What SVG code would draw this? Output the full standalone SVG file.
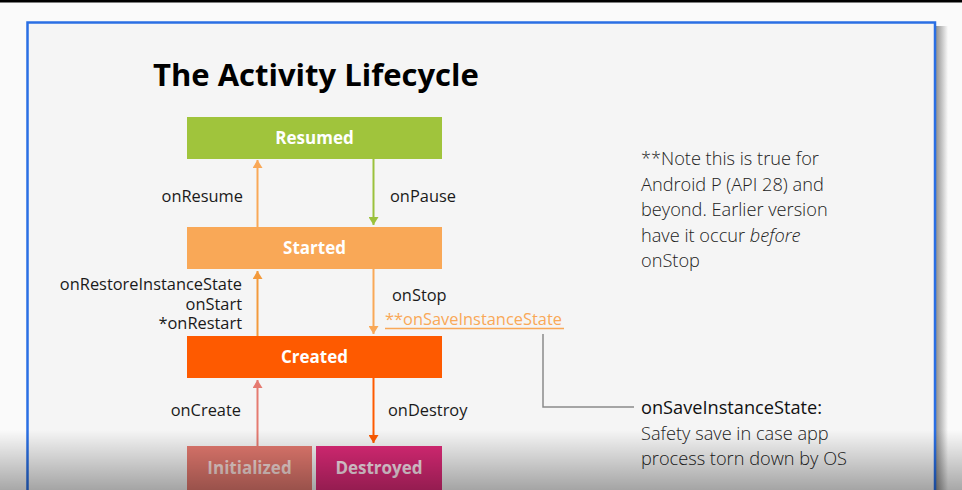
<svg xmlns="http://www.w3.org/2000/svg" width="962" height="490" viewBox="0 0 962 490">
<defs>
<style>
.lbl{font-family:"Open Sans","Noto Sans","Liberation Sans",sans-serif;font-size:16.4px;fill:#1a1a1a}
.box{font-family:"Open Sans","Noto Sans","Liberation Sans",sans-serif;font-size:17px;font-weight:700;fill:#ffffff;text-anchor:middle}
.note{font-family:"Open Sans","Noto Sans","Liberation Sans",sans-serif;font-size:18.2px;font-weight:300;fill:#222}
</style>
<linearGradient id="shade" x1="0" y1="0" x2="0" y2="1">
<stop offset="0" stop-color="#000" stop-opacity="0"/>
<stop offset="1" stop-color="#000" stop-opacity="0.33"/>
</linearGradient>
<linearGradient id="rshadow" x1="0" y1="0" x2="1" y2="0">
<stop offset="0" stop-color="#777" stop-opacity="0.8"/>
<stop offset="1" stop-color="#777" stop-opacity="0"/>
</linearGradient>
<marker id="aLO" markerWidth="8" markerHeight="10" refX="8" refY="5" orient="auto" markerUnits="userSpaceOnUse" viewBox="0 0 8 10"><path d="M0,0 L8,5 L0,10 Z" fill="#f9a857"/></marker>
<marker id="aG" markerWidth="8" markerHeight="10" refX="8" refY="5" orient="auto" markerUnits="userSpaceOnUse" viewBox="0 0 8 10"><path d="M0,0 L8,5 L0,10 Z" fill="#9bc13c"/></marker>
<marker id="aO" markerWidth="8" markerHeight="10" refX="8" refY="5" orient="auto" markerUnits="userSpaceOnUse" viewBox="0 0 8 10"><path d="M0,0 L8,5 L0,10 Z" fill="#f39a3c"/></marker>
<marker id="aS" markerWidth="8" markerHeight="10" refX="8" refY="5" orient="auto" markerUnits="userSpaceOnUse" viewBox="0 0 8 10"><path d="M0,0 L8,5 L0,10 Z" fill="#e57a70"/></marker>
<marker id="aR" markerWidth="8" markerHeight="10" refX="8" refY="5" orient="auto" markerUnits="userSpaceOnUse" viewBox="0 0 8 10"><path d="M0,0 L8,5 L0,10 Z" fill="#fe5a00"/></marker>
</defs>
<rect x="0" y="0" width="962" height="490" fill="#fafafa"/>
<rect x="0" y="0" width="962" height="2.5" fill="#000"/>
<rect x="936" y="26" width="12" height="470" fill="url(#rshadow)"/>
<rect x="27.5" y="22.5" width="907.5" height="480" fill="#f5f5f5" stroke="#2a6fe4" stroke-width="2.5"/>

<text x="153" y="86" font-family="'Open Sans','Noto Sans','Liberation Sans',sans-serif" font-size="31" font-weight="700" fill="#000">The Activity Lifecycle</text>

<g id="resumed"><rect x="187" y="117" width="255" height="42" fill="#a0c43c"/><text class="box" x="314.5" y="144">Resumed</text></g>
<g id="started"><rect x="187" y="227" width="255" height="42" fill="#f9a857"/><text class="box" x="314.5" y="254">Started</text></g>
<g id="created"><rect x="187" y="336" width="255" height="42" fill="#fe5a00"/><text class="box" x="314.5" y="363">Created</text></g>
<g id="initialized"><rect x="187" y="446" width="125" height="50" fill="#e57a70"/><text class="box" x="249.5" y="474" style="fill:#f6dcd8">Initialized</text></g>
<g id="destroyed"><rect x="316" y="446" width="126" height="50" fill="#de2a78"/><text class="box" x="379" y="474" style="fill:#fbe4ee">Destroyed</text></g>

<g id="connectors" stroke-width="2" fill="none">
<line x1="257.5" y1="227" x2="257.5" y2="160" stroke="#f9a857" marker-end="url(#aLO)"/>
<line x1="373.5" y1="159" x2="373.5" y2="225" stroke="#9bc13c" marker-end="url(#aG)"/>
<line x1="257.5" y1="336" x2="257.5" y2="271" stroke="#f39a3c" marker-end="url(#aO)"/>
<line x1="373.5" y1="269" x2="373.5" y2="334" stroke="#f9a857" marker-end="url(#aLO)"/>
<line x1="257.5" y1="446" x2="257.5" y2="380" stroke="#e57a70" marker-end="url(#aS)"/>
<line x1="373.5" y1="378" x2="373.5" y2="443" stroke="#fe5a00" marker-end="url(#aR)"/>
<polyline points="543,334 543,407 634,407" stroke="#8a8a8a" stroke-width="1.5"/>
<line x1="385" y1="328.5" x2="564" y2="328.5" stroke="#f9a857" stroke-width="1.5"/>
</g>

<text class="lbl" x="243" y="202" text-anchor="end">onResume</text>
<text class="lbl" x="390" y="202">onPause</text>
<text class="lbl" x="242" y="290" text-anchor="end">onRestoreInstanceState</text>
<text class="lbl" x="242" y="309.5" text-anchor="end">onStart</text>
<text class="lbl" x="242" y="329" text-anchor="end">*onRestart</text>
<text class="lbl" x="392" y="301">onStop</text>
<text class="lbl" x="385" y="324.5" style="fill:#f9a857">**onSaveInstanceState</text>
<text class="lbl" x="241" y="416" text-anchor="end">onCreate</text>
<text class="lbl" x="388" y="416">onDestroy</text>

<text class="note" x="641" y="165">**Note this is true for</text>
<text class="note" x="641" y="190.5">Android P (API 28) and</text>
<text class="note" x="641" y="216">beyond. Earlier version</text>
<text class="note" x="641" y="241.5">have it occur <tspan font-style="italic">before</tspan></text>
<text class="note" x="641" y="267">onStop</text>

<text class="note" x="641" y="414" style="font-weight:400;fill:#111">onSaveInstanceState:</text>
<text class="note" x="641" y="439.5">Safety save in case app</text>
<text class="note" x="641" y="465">process torn down by OS</text>

<rect x="0" y="430" width="962" height="60" fill="url(#shade)"/>
</svg>
